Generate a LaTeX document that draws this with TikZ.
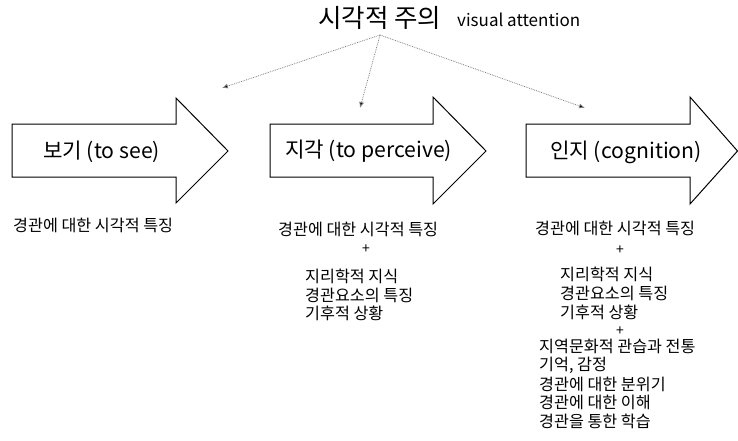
\documentclass[tikz,border=0pt]{standalone}
\usepackage{fontspec}
\setmainfont{Noto Sans CJK KR}
\usetikzlibrary{arrows.meta}
\tikzset{
  bigarrow/.style={draw=black, line width=1pt, fill=white, line join=miter},
  lbl/.style={inner sep=0pt, anchor=west, font=\fontsize{21.2}{23}\selectfont},
  small/.style={inner sep=0pt, anchor=west, font=\fontsize{16.2}{18}\selectfont},
  plus/.style={inner sep=0pt, font=\fontsize{14}{16}\selectfont},
  attn/.style={draw=gray, densely dotted, line width=0.8pt, -{Latex[length=6pt,width=5pt,fill=black]}}
}
\begin{document}
\begin{tikzpicture}[x=1pt,y=-1pt]
\useasboundingbox (0,0) rectangle (738,440);
% big arrows
\draw[bigarrow] (12,124) -- (176,124) -- (176,98) -- (228,151) -- (176,203) -- (176,177) -- (12,177) -- cycle;
\draw[bigarrow] (270,124) -- (433,124) -- (433,97) -- (486,151) -- (433,204) -- (433,177) -- (270,177) -- cycle;
\draw[bigarrow] (526,124) -- (690,124) -- (690,97) -- (737.5,151) -- (690,204) -- (690,177) -- (526,177) -- cycle;
% arrow labels
\node[lbl] (see) at (43,152) {보기 (to see)};
\node[lbl] (perc) at (285,151) {지각 (to perceive)};
\node[lbl] (cog) at (550,152) {인지 (cognition)};
% title
\node[inner sep=0pt, anchor=west, font=\fontsize{25.5}{27}\selectfont] (title) at (318,18) {시각적 주의};
\node[inner sep=0pt, anchor=west, font=\fontsize{17}{19}\selectfont] (titleen) at (457,20) {visual attention};
% attention connectors
\coordinate (src) at (380,35);
\coordinate (e1) at (222,88);
\coordinate (e2) at (360,108);
\coordinate (e3) at (585,108);
\draw[attn] (src) -- (e1);
\draw[attn] (src) -- (e2);
\draw[attn] (src) -- (e3);
% column 1
\node[small] (c1a) at (13,225) {경관에 대한 시각적 특징};
% column 2
\node[small] (c2a) at (278,229) {경관에 대한 시각적 특징};
\node[plus] (c2p) at (366,249) {+};
\node[small] (c2b) at (305,276) {지리학적 지식};
\node[small] (c2c) at (305,295) {경관요소의 특징};
\node[small] (c2d) at (305,313) {기후적 상황};
% column 3
\node[small] (c3a) at (535,228) {경관에 대한 시각적 특징};
\node[plus] (c3p) at (620,250) {+};
\node[small] (c3b) at (560,274) {지리학적 지식};
\node[small] (c3c) at (560,293) {경관요소의 특징};
\node[small] (c3d) at (560,312) {기후적 상황};
\node[plus] (c3q) at (620,331) {+};
\node[small] (c3e) at (539,346) {지역문화적 관습과 전통};
\node[small] (c3f) at (539,365) {기억, 감정};
\node[small] (c3g) at (539,384) {경관에 대한 분위기};
\node[small] (c3h) at (539,402) {경관에 대한 이해};
\node[small] (c3i) at (539,421) {경관을 통한 학습};
\end{tikzpicture}
\end{document}
